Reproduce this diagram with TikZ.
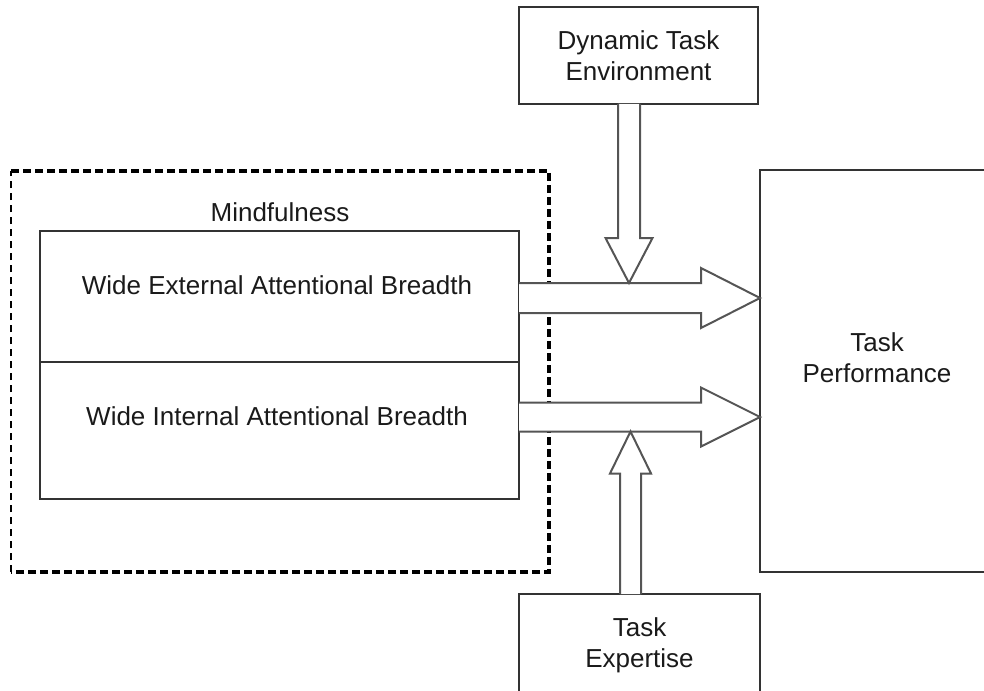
\documentclass[tikz,border=0pt]{standalone}
\usepackage{fontspec}
\setmainfont{Liberation Sans}
\usetikzlibrary{calc}

\definecolor{boxline}{HTML}{333333}
\definecolor{arrowline}{HTML}{555555}
\definecolor{labeltext}{HTML}{1A1A1A}

\tikzset{
  block/.style={draw=boxline, line width=0.75pt, inner sep=0pt, outer sep=0pt},
  labeltxt/.style={text=labeltext, font=\fontsize{13}{15.5}\selectfont, align=center, inner sep=0pt},
  blockarrow/.style={draw=arrowline, line width=1pt, fill=white, line join=miter},
  mindline/.style={draw=black, dash pattern=on 4pt off 2pt}
}

\begin{document}
\begin{tikzpicture}[x=0.5pt,y=-0.5pt]
\useasboundingbox (0,0) rectangle (984,690);
\node [block, minimum width=119.5pt, minimum height=48.5pt, labeltxt] (env) at (638.5,55.5) {Dynamic Task\\Environment};
\node [inner sep=0pt, outer sep=0pt, minimum width=269pt, minimum height=200.5pt] (mind) at (280,371.5) {};
\draw [mindline, line width=0.6pt, dash pattern=on 3.5pt off 2.5pt] (mind.south west) -- (mind.north west);
\draw [mindline, line width=1.7pt] (mind.north west) -- (mind.north east) -- (mind.south east) -- (mind.south west);
\node [labeltxt] (mindtxt) at (280,212) {Mindfulness};
\node [block, minimum width=239.5pt, minimum height=65.5pt] (ext) at (279.5,296.5) {};
\node [block, minimum width=239.5pt, minimum height=68.5pt] (int) at (279.5,430.5) {};
\node [labeltxt] (exttxt) at (277,285) {Wide External Attentional Breadth};
\node [labeltxt] (inttxt) at (277,416) {Wide Internal Attentional Breadth};
\node [block, minimum width=117pt, minimum height=201pt] (perf) at (877,371) {};
\node [labeltxt] (perftxt) at (877,357.5) {Task\\Performance};
\node [block, minimum width=120.5pt, minimum height=51pt, labeltxt] (exp) at (639.5,645) {Task\\Expertise};
% arrow tips
\coordinate (tipE) at (perf.west |- 0,298);
\coordinate (tipI) at (perf.west |- 0,417);
\coordinate (tipD) at (629,283);
\coordinate (tipU) at (630.5,431.5);
\coordinate (extE) at (ext.east |- tipE);
\coordinate (intE) at (int.east |- tipI);
\coordinate (envS) at (env.south -| tipD);
\coordinate (expN) at (exp.north -| tipU);
\draw [blockarrow] ($(extE)+(0,-15)$) -- ($(tipE)+(-59,-15)$) -- ($(tipE)+(-59,-30)$) -- (tipE) -- ($(tipE)+(-59,30)$) -- ($(tipE)+(-59,15)$) -- ($(extE)+(0,15)$);
\draw [blockarrow] ($(intE)+(0,-14.5)$) -- ($(tipI)+(-59,-14.5)$) -- ($(tipI)+(-59,-29.5)$) -- (tipI) -- ($(tipI)+(-59,29.5)$) -- ($(tipI)+(-59,14.5)$) -- ($(intE)+(0,14.5)$);
\draw [blockarrow] ($(envS)+(-11,0)$) -- ($(tipD)+(-11,-45)$) -- ($(tipD)+(-23.5,-45)$) -- (tipD) -- ($(tipD)+(23.5,-45)$) -- ($(tipD)+(11,-45)$) -- ($(envS)+(11,0)$);
\draw [blockarrow] ($(expN)+(-10.5,0)$) -- ($(tipU)+(-10.5,42)$) -- ($(tipU)+(-20.5,42)$) -- (tipU) -- ($(tipU)+(20.5,42)$) -- ($(tipU)+(10.5,42)$) -- ($(expN)+(10.5,0)$);
\end{tikzpicture}
\end{document}
